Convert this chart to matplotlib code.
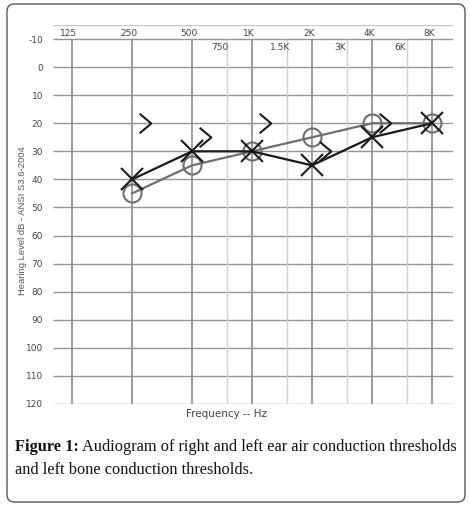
import matplotlib
matplotlib.use("Agg")
import matplotlib.pyplot as plt
import numpy as np
from matplotlib.path import Path
from matplotlib.patches import FancyBboxPatch
from matplotlib.transforms import offset_copy

# ---- data ----
main_freqs = [125, 250, 500, 1000, 2000, 4000, 8000]
main_labels = ["125", "250", "500", "1K", "2K", "4K", "8K"]
half_freqs = [750, 1500, 3000, 6000]
half_labels = ["750", "1.5K", "3K", "6K"]
db_ticks = [-10, 0, 10, 20, 30, 40, 50, 60, 70, 80, 90, 100, 110, 120]

test_freqs = [250, 500, 1000, 2000, 4000, 8000]
right_air = [45, 35, 30, 25, 20, 20]      # circles
left_air = [40, 30, 30, 35, 25, 20]       # crosses
bone_freqs = [250, 500, 1000, 2000, 4000]
left_bone = [20, 25, 20, 30, 20]          # ">" symbols

W, H = 470, 510
fig = plt.figure(figsize=(W / 100, H / 100), dpi=100)
fig.patch.set_facecolor("white")

# rounded outer box
box = FancyBboxPatch((7 / W, 7 / H), (458) / W, (498) / H,
                     boxstyle="round,pad=0,rounding_size=0.015",
                     transform=fig.transFigure, fill=False,
                     edgecolor="#555555", linewidth=1.0)
fig.patches.append(box)

# axes placement (pixels)
x0, x1 = 53, 453
ytop, ybot = 26, 405
ax = fig.add_axes([x0 / W, (H - ybot) / H, (x1 - x0) / W, (ybot - ytop) / H])
ax.set_xscale("log", base=2)
ax.set_xlim(125 * 2 ** (-19 / 60), 125 * 2 ** (381 / 60))
ax.set_ylim(120, -15)
for s in ax.spines.values():
    s.set_visible(False)
ax.set_xticks([])
ax.set_yticks([])
ax.minorticks_off()

# grid
ax.hlines(db_ticks, ax.get_xlim()[0], ax.get_xlim()[1], color="#959595", lw=1.0, zorder=1)
ax.hlines([-15], ax.get_xlim()[0], ax.get_xlim()[1], color="#c8c8c8", lw=1.0, zorder=1)
ax.vlines(half_freqs, -10, 120, color="#d0d0d0", lw=1.0, zorder=1)
ax.vlines(main_freqs, -10, 120, color="#8c8c8c", lw=1.2, zorder=1)

# y tick labels
for d in db_ticks:
    ax.text(-0.025, d, str(d), transform=ax.get_yaxis_transform(), ha="right",
            va="center", fontsize=6.5, color="#444444", family="DejaVu Sans")

# frequency labels
lab_tr = offset_copy(ax.transData, fig=fig, x=-3, y=0, units="dots")
for f, l in zip(main_freqs, main_labels):
    ax.text(f, -12.5, l, transform=lab_tr, ha="center", va="center",
            fontsize=6.5, color="#444444", family="DejaVu Sans")
lab_tr2 = offset_copy(ax.transData, fig=fig, x=-7, y=0, units="dots")
for f, l in zip(half_freqs, half_labels):
    ax.text(f, -7.5, l, transform=lab_tr2, ha="center", va="center",
            fontsize=6.5, color="#444444", family="DejaVu Sans")

# data series
ax.plot(test_freqs, right_air, color="#6e6e6e", lw=1.6, marker="o", ms=13,
        mfc="none", mec="#6e6e6e", mew=1.5, zorder=4)
ax.plot(test_freqs, left_air, color="#1a1a1a", lw=1.6, marker="x", ms=16,
        mec="#1a1a1a", mew=1.5, zorder=5)

chev = Path([(-0.6, 1.0), (0.6, 0.0), (-0.6, -1.0)],
            [Path.MOVETO, Path.LINETO, Path.LINETO])
bone_tr = offset_copy(ax.transData, fig=fig, x=13, y=0, units="dots")
ax.plot(bone_freqs, left_bone, linestyle="none", marker=chev, ms=14,
        mfc="none", mec="#1a1a1a", mew=1.5, transform=bone_tr, zorder=6)

# axis titles
fig.text(23 / W, (H - 221) / H, "Hearing Level dB - ANSI S3.6-2004", rotation=90,
         ha="center", va="center", fontsize=6.8, color="#555555",
         family="Liberation Sans")
fig.text(226 / W, (H - 414) / H, "Frequency -- Hz", ha="center", va="center",
         fontsize=7.5, color="#444444", family="DejaVu Sans")

# caption
cap_x = 15 / W
fs = 11.8
t1 = fig.text(cap_x, (H - 447) / H, "Figure 1:", ha="left", va="center",
              fontsize=fs, fontweight="bold", family="Liberation Serif", color="#111111")
fig.canvas.draw()
bb = t1.get_window_extent()
fig.text((bb.x1 + 3.5) / W, (H - 447) / H,
         "Audiogram of right and left ear air conduction thresholds",
         ha="left", va="center", fontsize=fs, family="Liberation Serif", color="#111111")
fig.text(cap_x, (H - 470) / H, "and left bone conduction thresholds.", ha="left",
         va="center", fontsize=fs, family="Liberation Serif", color="#111111")

fig.savefig("out.png", dpi=100, facecolor="white")
